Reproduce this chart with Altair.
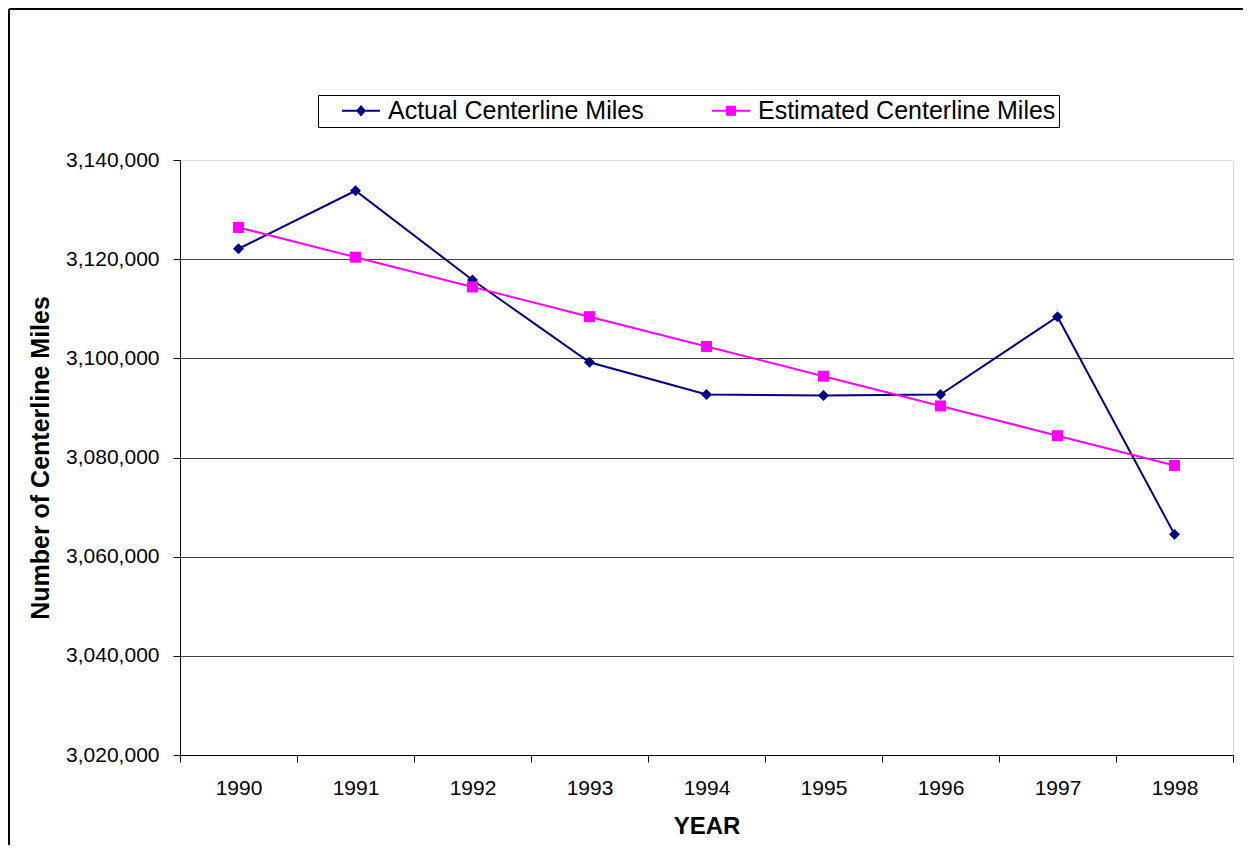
import altair as alt
import pandas as pd

years = [1990, 1991, 1992, 1993, 1994, 1995, 1996, 1997, 1998]
actual = [3122100, 3133800, 3115800, 3099200, 3092700, 3092500, 3092700, 3108400, 3064500]
estimated = [3126400, 3120400, 3114400, 3108400, 3102400, 3096400, 3090400, 3084400, 3078400]
series_names = ["Actual Centerline Miles", "Estimated Centerline Miles"]
series_colors = ["#000080", "#FF00FF"]
y_ticks = [3020000, 3040000, 3060000, 3080000, 3100000, 3120000, 3140000]
x_ticks = [1989.5, 1990, 1990.5, 1991, 1991.5, 1992, 1992.5, 1993, 1993.5, 1994, 1994.5,
           1995, 1995.5, 1996, 1996.5, 1997, 1997.5, 1998, 1998.5]

rows = []
for y, a, e in zip(years, actual, estimated):
    rows.append({"year": y, "value": a, "series": series_names[0]})
    rows.append({"year": y, "value": e, "series": series_names[1]})
df = pd.DataFrame(rows)

W, H = 1053, 595
FONT = "Liberation Sans"

xenc = alt.X(
    "year:Q",
    scale=alt.Scale(domain=[1989.5, 1998.5], nice=False, zero=False),
    axis=alt.Axis(
        values=x_ticks,
        labelExpr="datum.value % 1 === 0 ? toString(datum.value) : ''",
        tickOpacity={"condition": {"test": "datum.value % 1 === 0", "value": 0}, "value": 1},
        grid=False,
        title="YEAR",
        titleFontSize=24,
        titleFontWeight="bold",
        titlePadding=16,
        labelFontSize=21,
        labelPadding=15,
        tickSize=7,
        tickColor="#000000",
        domainColor="#000000",
        labelColor="#000000",
        titleColor="#000000",
        labelFlush=False,
        labelOverlap=False,
    ),
)
yenc = alt.Y(
    "value:Q",
    scale=alt.Scale(domain=[3020000, 3140000], nice=False, zero=False),
    axis=alt.Axis(
        values=y_ticks,
        format=",d",
        title="Number of Centerline Miles",
        titleFontSize=25,
        titleFontWeight="bold",
        titlePadding=12,
        labelFontSize=21,
        labelPadding=14,
        tickSize=7,
        tickColor="#000000",
        domainColor="#000000",
        labelColor="#000000",
        titleColor="#000000",
        gridColor="#404040",
        gridOpacity={"condition": {"test": "datum.value === 3140000", "value": 0}, "value": 1},
    ),
)

base = alt.Chart(df)


def series_layers(name, color, shape, size):
    sub = base.transform_filter(alt.datum.series == name)
    line = sub.mark_line(strokeWidth=2, color=color).encode(x=xenc, y=yenc)
    pts = sub.mark_point(shape=shape, filled=True, size=size, opacity=1, color=color).encode(x=xenc, y=yenc)
    return [line, pts]


layers = []
layers += series_layers(series_names[0], series_colors[0], "diamond", 120)
layers += series_layers(series_names[1], series_colors[1], "square", 121)

# legend symbols: a short line with the marker in its middle (unit = symbol radius)
diamond_path = "M0.68,-0.08L3.72,-0.08L3.72,0.08L0.68,0.08Z M2.2,-0.46L2.6,0L2.2,0.46L1.8,0Z"
square_path = "M0.68,-0.08L3.72,-0.08L3.72,0.08L0.68,0.08Z M1.8,-0.4L2.6,-0.4L2.6,0.4L1.8,0.4Z"

legend_def = alt.Legend(
    title=None,
    orient="none",
    legendX=138,
    legendY=-65,
    direction="horizontal",
    columns=2,
    strokeColor="#000000",
    fillColor="#FFFFFF",
    padding=3,
    labelFontSize=25,
    labelFont=FONT,
    labelColor="#000000",
    labelLimit=500,
    labelOffset=42,
    columnPadding=47,
    symbolSize=625,
    symbolOpacity=1,
    symbolStrokeWidth=0,
)

legend_layer = base.mark_point(filled=True, opacity=0).encode(
    x=xenc, y=yenc,
    color=alt.Color("series:N", scale=alt.Scale(domain=series_names, range=series_colors),
                    legend=legend_def),
    shape=alt.Shape("series:N", scale=alt.Scale(domain=series_names, range=[diamond_path, square_path]),
                    legend=legend_def),
)
layers.append(legend_layer)

frame_data = alt.Data(values=[{"k": 1}])
layers.append(alt.Chart(frame_data).mark_rule(color="#000000", strokeWidth=2).encode(
    x=alt.value(-171), y=alt.value(-151), y2=alt.value(H + 90)
))
layers.append(alt.Chart(frame_data).mark_rule(color="#000000", strokeWidth=2).encode(
    x=alt.value(-171), x2=alt.value(W + 12), y=alt.value(-151)
))

chart = alt.layer(*layers).properties(
    width=W,
    height=H,
    autosize=alt.AutoSizeParams(type="none"),
    padding={"left": 172, "top": 152, "right": 10, "bottom": 90},
).configure_view(
    stroke="#808080", strokeWidth=2
).configure(
    font=FONT
)

chart.save("out.html", embed_options={"renderer": "svg", "actions": False})
